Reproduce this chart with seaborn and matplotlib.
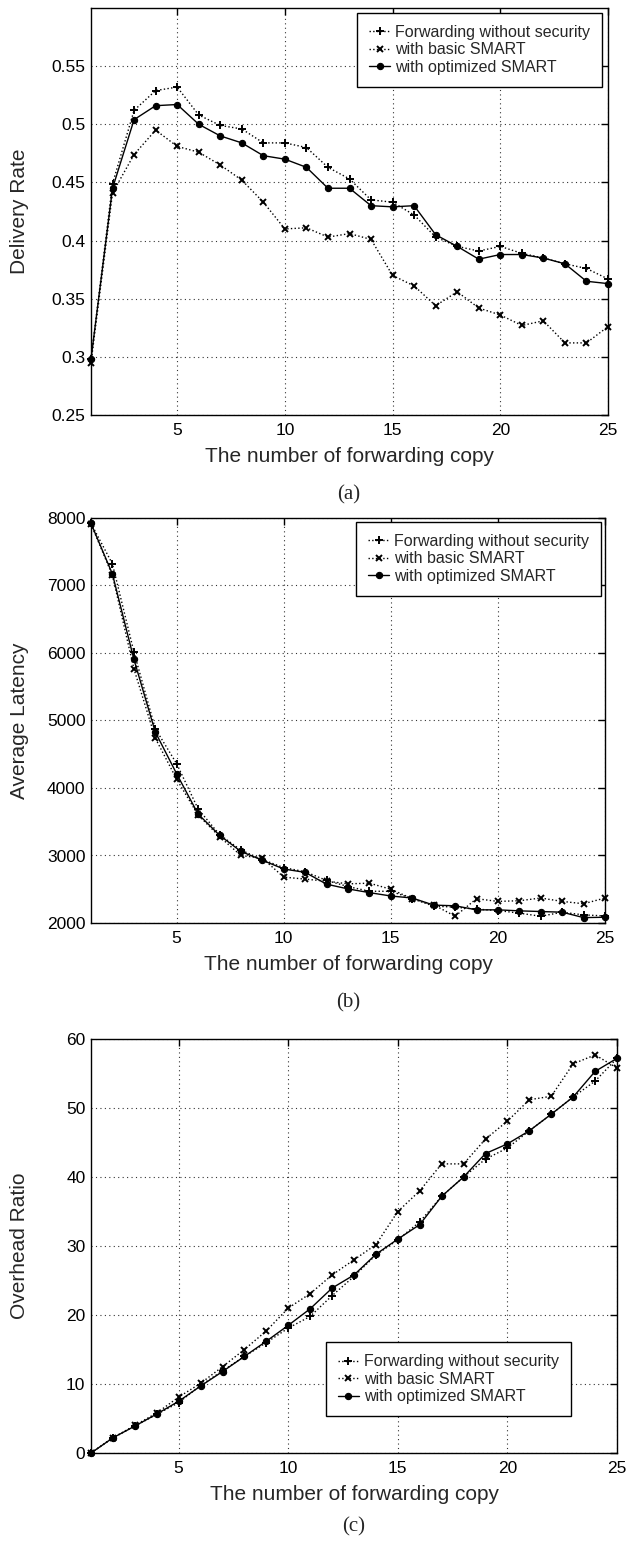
import numpy as np
import pandas as pd
import matplotlib
matplotlib.use("Agg")
import matplotlib.pyplot as plt
import seaborn as sns

# ---------------- data ----------------
copies = list(range(1, 26))
series_names = ["Forwarding without security", "with basic SMART", "with optimized SMART"]

a_fwd = [0.298, 0.449, 0.512, 0.529, 0.532, 0.508, 0.499, 0.496, 0.484, 0.484, 0.480, 0.463, 0.453,
         0.435, 0.433, 0.422, 0.403, 0.395, 0.391, 0.395, 0.389, 0.385, 0.380, 0.376, 0.367]
a_basic = [0.295, 0.441, 0.474, 0.495, 0.481, 0.476, 0.465, 0.452, 0.433, 0.410, 0.411, 0.403, 0.406,
           0.401, 0.370, 0.361, 0.344, 0.356, 0.342, 0.336, 0.327, 0.331, 0.312, 0.312, 0.326]
a_opt = [0.298, 0.445, 0.504, 0.516, 0.517, 0.500, 0.490, 0.484, 0.473, 0.470, 0.463, 0.445, 0.445,
         0.430, 0.429, 0.430, 0.405, 0.395, 0.384, 0.388, 0.388, 0.385, 0.380, 0.365, 0.363]

b_fwd = [7920, 7320, 6020, 4880, 4360, 3690, 3310, 3080, 2940, 2820, 2760, 2630, 2540,
         2470, 2470, 2360, 2250, 2235, 2205, 2185, 2146, 2100, 2160, 2120, 2105]
b_basic = [7910, 7150, 5770, 4740, 4130, 3600, 3280, 3000, 2960, 2680, 2650, 2620, 2580,
           2590, 2500, 2360, 2270, 2100, 2360, 2320, 2330, 2370, 2320, 2285, 2370]
b_opt = [7920, 7170, 5910, 4830, 4210, 3615, 3300, 3060, 2930, 2800, 2750, 2575, 2505,
         2450, 2400, 2370, 2265, 2255, 2195, 2195, 2180, 2170, 2160, 2080, 2085]

c_fwd = [0, 2.2, 3.9, 5.6, 7.3, 9.8, 11.9, 14.0, 16.0, 18.1, 19.8, 22.8, 25.6,
         28.7, 30.9, 33.5, 37.2, 40.0, 42.6, 44.2, 46.7, 49.1, 51.6, 53.9, 57.2]
c_basic = [0, 2.2, 4.0, 5.8, 8.1, 10.1, 12.5, 15.0, 17.7, 21.0, 23.1, 25.8, 28.0,
           30.2, 35.0, 38.0, 41.9, 41.9, 45.5, 48.1, 51.2, 51.7, 56.4, 57.7, 55.8]
c_opt = [0, 2.2, 3.9, 5.65, 7.5, 9.7, 11.8, 14.0, 16.2, 18.5, 20.9, 23.9, 25.8,
         28.8, 31.0, 33.1, 37.2, 40.0, 43.4, 44.8, 46.7, 49.1, 51.6, 55.3, 57.2]

x_ticks = [5, 10, 15, 20, 25]
a_yticks = [0.25, 0.3, 0.35, 0.4, 0.45, 0.5, 0.55]
a_yticklabels = ["0.25", "0.3", "0.35", "0.4", "0.45", "0.5", "0.55"]
b_yticks = [2000, 3000, 4000, 5000, 6000, 7000, 8000]
c_yticks = [0, 10, 20, 30, 40, 50, 60]

x_label = "The number of forwarding copy"
y_labels = ["Delivery Rate", "Average Latency", "Overhead Ratio"]
panel_letters = ["(a)", "(b)", "(c)"]

# ---------------- style ----------------
sns.set_theme(style="white")
plt.rcParams["font.family"] = ["Liberation Sans", "DejaVu Sans"]
plt.rcParams["axes.edgecolor"] = "black"
plt.rcParams["axes.linewidth"] = 1.0
plt.rcParams["xtick.color"] = "black"
plt.rcParams["ytick.color"] = "black"

W, H = 631, 1542
fig = plt.figure(figsize=(W / 100, H / 100), dpi=100)
fig.patch.set_facecolor("white")

def px_axes(left, right, top, bottom):
    return fig.add_axes([left / W, 1 - bottom / H, (right - left) / W, (bottom - top) / H])

styles = {
    "Forwarding without security": dict(linestyle=":", marker="+", markersize=6, markeredgewidth=1.4),
    "with basic SMART": dict(linestyle=":", marker="x", markersize=4.5, markeredgewidth=1.4),
    "with optimized SMART": dict(linestyle="-", marker="o", markersize=4.5, markeredgewidth=0.8),
}

YLABEL_X_PX = 29

def draw_panel(ax, left_px, right_px, fwd, basic, opt, ylim, yticks, yticklabels, ylabel, legend_kw):
    df = pd.DataFrame({
        "copy": copies * 3,
        "value": list(fwd) + list(basic) + list(opt),
        "series": [series_names[0]] * 25 + [series_names[1]] * 25 + [series_names[2]] * 25,
    })
    for name in series_names:
        sub = df[df["series"] == name]
        sns.lineplot(data=sub, x="copy", y="value", ax=ax, color="black", linewidth=1.0,
                     label=name, markeredgecolor="black", markerfacecolor="black",
                     **styles[name])
    for ln in ax.lines:
        ln.set_clip_on(False)
    ax.set_xlim(1, 25)
    ax.set_ylim(*ylim)
    ax.set_xticks(x_ticks)
    ax.set_xticklabels([str(t) for t in x_ticks])
    ax.set_yticks(yticks)
    ax.set_yticklabels(yticklabels)
    ax.grid(True, linestyle=(0, (1, 3)), color="black", linewidth=0.8, alpha=0.8)
    ax.tick_params(axis="both", direction="in", length=5, width=1, labelsize=12.5,
                   top=True, right=True)
    ax.tick_params(axis="x", pad=6)
    ax.tick_params(axis="y", pad=4)
    for s in ax.spines.values():
        s.set_visible(True)
        s.set_color("black")
    ax.set_xlabel(x_label, fontsize=15, labelpad=6)
    ax.set_ylabel(ylabel, fontsize=15)
    ax.yaxis.set_label_coords((YLABEL_X_PX - left_px) / (right_px - left_px), 0.5)
    leg = ax.legend(fontsize=11.5, frameon=True, fancybox=False, edgecolor="black",
                    framealpha=1, handlelength=1.3, handletextpad=0.3, borderpad=0.75,
                    labelspacing=0.15, borderaxespad=0, **legend_kw)
    leg.get_frame().set_linewidth(1.0)

ax_a = px_axes(91, 608, 8, 415)
draw_panel(ax_a, 91, 608, a_fwd, a_basic, a_opt, (0.25, 0.6), a_yticks, a_yticklabels, y_labels[0],
           dict(loc="upper right", bbox_to_anchor=(0.988, 0.988)))

ax_b = px_axes(91, 605, 518, 923)
draw_panel(ax_b, 91, 605, b_fwd, b_basic, b_opt, (2000, 8000), b_yticks, [str(t) for t in b_yticks],
           y_labels[1], dict(loc="upper right", bbox_to_anchor=(0.992, 0.990)))

ax_c = px_axes(91, 617, 1039, 1453)
draw_panel(ax_c, 91, 617, c_fwd, c_basic, c_opt, (0, 60), c_yticks, [str(t) for t in c_yticks],
           y_labels[2], dict(loc="lower left", bbox_to_anchor=(0.447, 0.089)))

for letter, ypx, xc in zip(panel_letters, [495, 1003, 1527], [349, 348, 354]):
    fig.text(xc / W, 1 - ypx / H, letter, ha="center", va="center", fontsize=15,
             family=["Liberation Serif", "DejaVu Serif"])

fig.savefig("out.png", dpi=100, facecolor="white")
